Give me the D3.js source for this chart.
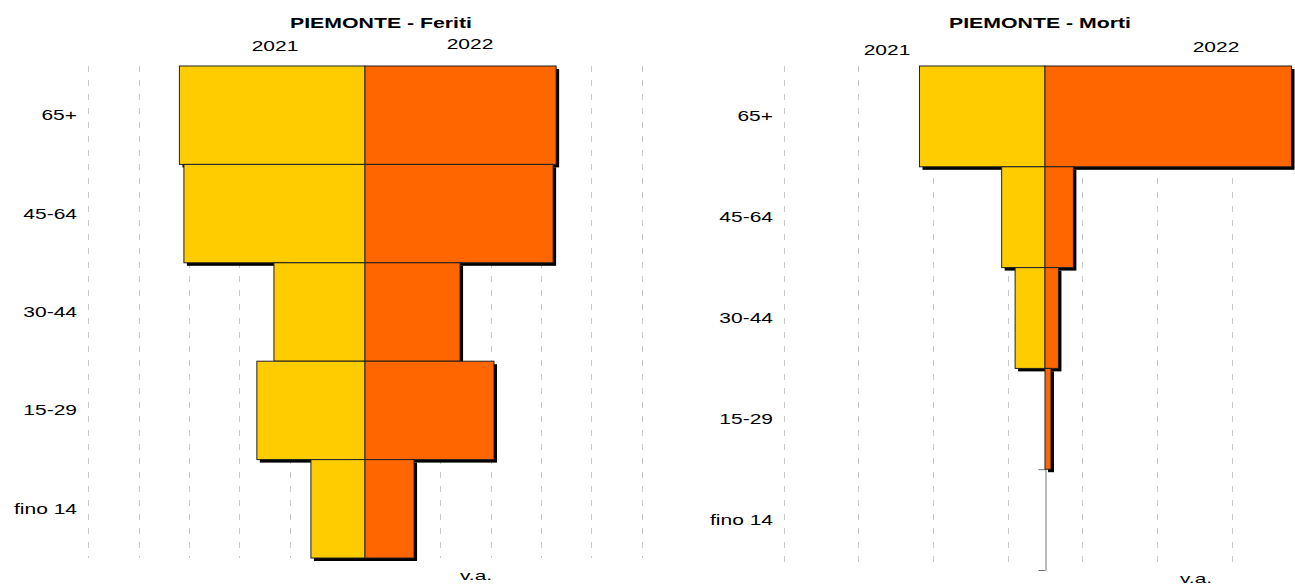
<!DOCTYPE html>
<html>
<head>
<meta charset="utf-8">
<script src="https://cdn.jsdelivr.net/npm/d3@7"></script>
<style>
  body { margin: 0; background: #fff; }
  svg { display: block; font-family: "Liberation Sans", Arial, sans-serif; }
</style>
</head>
<body>
<svg id="chart" width="1295" height="586"></svg>
<script>
// age classes, top to bottom
const ageGroups = ['65+', '45-64', '30-44', '15-29', 'fino 14'];
const years = ['2021', '2022'];

// feriti (v.a.)
const feriti2021 = [3690, 3600, 1810, 2150, 1075];
const feriti2022 = [3800, 3740, 1890, 2565, 975];

// morti (v.a.)
const morti2021 = [84, 29, 20, 0, 0];
const morti2022 = [165, 19, 9, 4, 0];

const YELLOW = '#ffcc00';
const ORANGE = '#ff6600';
const SHADOW = 3;

const svg = d3.select('#chart');

// text in the original is stretched sideways, so scale x only
function wideText(g, x, y, str, size, sx, anchor, weight) {
	return g.append('text')
		.attr('transform', `translate(${x},${y}) scale(${sx},1)`)
		.attr('text-anchor', anchor || 'middle')
		.style('font-size', size + 'px')
		.style('font-weight', weight || 'normal')
		.attr('fill', '#000')
		.text(str);
}

function pyramid(cfg) {
	const g = svg.append('g');

	const x = d3.scaleLinear().domain(cfg.domain).range(cfg.xRange);
	const y = d3.scaleBand().domain(ageGroups).range(cfg.yRange).padding(0);
	const edges = d3.scaleLinear().domain([0, ageGroups.length]).range(cfg.yRange);

	// dashed grid
	g.selectAll('.grid')
		.data(cfg.grid)
		.join('line')
		.attr('class', 'grid')
		.attr('x1', (d) => Math.round(x(d)) + 0.5)
		.attr('x2', (d) => Math.round(x(d)) + 0.5)
		.attr('y1', cfg.yRange[0])
		.attr('y2', cfg.yRange[1])
		.attr('stroke', '#c8c8c8')
		.attr('stroke-dasharray', '6,8');

	// center axis with ticks on the class boundaries
	const axis = g.append('g')
		.attr('transform', `translate(${Math.round(x(0)) + 0.5},0)`)
		.call(d3.axisLeft(edges)
			.tickValues(d3.range(0, ageGroups.length + 1))
			.tickSize(7)
			.tickSizeOuter(0)
			.tickFormat(''));
	axis.selectAll('path, line').attr('stroke', '#777');

	const rows = ageGroups.map((a, i) => ({ age: a, v1: cfg.left[i], v2: cfg.right[i] }));

	// bars: 2021 goes left, 2022 right
	const bars = [];
	rows.forEach((r) => {
		if (r.v1 > 0) bars.push({ age: r.age, x0: x(-r.v1), x1: x(0), color: YELLOW });
		if (r.v2 > 0) bars.push({ age: r.age, x0: x(0), x1: x(r.v2), color: ORANGE });
	});

	g.selectAll('.shadow')
		.data(bars)
		.join('rect')
		.attr('class', 'shadow')
		.attr('x', (d) => d.x0 + SHADOW)
		.attr('y', (d) => y(d.age) + SHADOW)
		.attr('width', (d) => d.x1 - d.x0)
		.attr('height', y.bandwidth())
		.attr('fill', '#000');

	g.selectAll('.bar')
		.data(bars)
		.join('rect')
		.attr('class', 'bar')
		.attr('x', (d) => d.x0)
		.attr('y', (d) => y(d.age))
		.attr('width', (d) => d.x1 - d.x0)
		.attr('height', y.bandwidth())
		.attr('fill', (d) => d.color)
		.attr('stroke', '#222')
		.attr('stroke-width', 1);

	// age labels
	ageGroups.forEach((a) => {
		wideText(g, cfg.labelX, y(a) + y.bandwidth() / 2 + 5, a, 14, 1.5, 'end');
	});

	// titles and year headers
	wideText(g, cfg.titleX, 28, cfg.title, 14, 1.52, 'middle', 'bold');
	wideText(g, cfg.yearX[0], cfg.yearY[0], years[0], 15, 1.4);
	wideText(g, cfg.yearX[1], cfg.yearY[1], years[1], 15, 1.4);
	wideText(g, cfg.vaX, cfg.vaY, 'v.a.', 13, 1.6);
}

pyramid({
	title: 'PIEMONTE - Feriti',
	left: feriti2021,
	right: feriti2022,
	domain: [-6000, 6000],
	xRange: [63.2, 666.8],
	yRange: [66, 558],
	grid: d3.range(-5500, 5501, 1000),
	labelX: 77,
	titleX: 381,
	yearX: [275, 470],
	yearY: [51, 49],
	vaX: 476,
	vaY: 580
});

pyramid({
	title: 'PIEMONTE - Morti',
	left: morti2021,
	right: morti2022,
	domain: [-200, 200],
	xRange: [746.2, 1343.8],
	yRange: [66, 570],
	grid: d3.range(-175, 176, 50),
	labelX: 773,
	titleX: 1040,
	yearX: [887, 1216],
	yearY: [55, 52],
	vaX: 1196,
	vaY: 583
});
</script>
</body>
</html>
